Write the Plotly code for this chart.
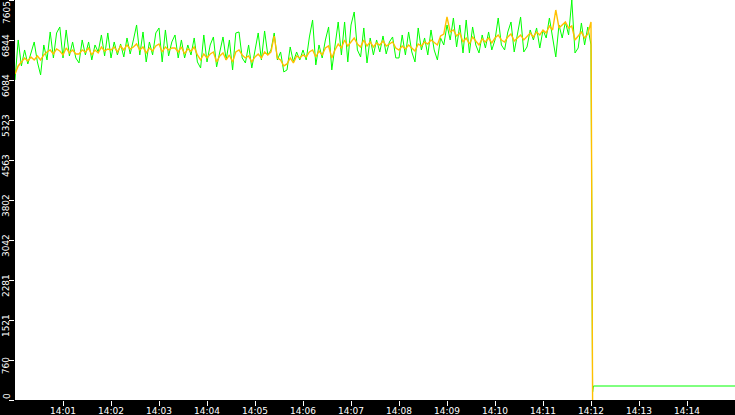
import numpy as np
import pandas as pd
import plotly.graph_objects as go

# one sample every 4 s from 14:00:00 to 14:12:00
SAMPLE_STEP_S = 4
START = "2024-01-01 14:00:00"
END = "2024-01-01 14:15:00"

green_vals = [
    6085, 6845, 6351, 6655, 6389, 6617, 6807, 6427, 6180, 6750,
    6465, 6997, 6503, 6978, 7092, 6503, 7035, 6541, 6807, 6503,
    6408, 6845, 6560, 6807, 6465, 6750, 6617, 6940, 6541, 6978,
    6503, 6807, 6560, 6769, 6522, 6883, 6579, 6845, 7130, 6560,
    6997, 6427, 6807, 6560, 6978, 7073, 6427, 7035, 6541, 6807,
    6940, 6503, 6845, 6503, 6750, 6560, 6883, 6427, 6313, 6940,
    6427, 6750, 6902, 6332, 6655, 6902, 6465, 6845, 6275, 6978,
    6997, 6503, 6408, 6750, 6313, 6655, 6978, 6465, 7016, 6560,
    6655, 6978, 6465, 6617, 6237, 6275, 6712, 6427, 6617, 6465,
    6655, 6465, 6902, 7225, 6370, 6750, 6503, 6845, 7092, 6275,
    6750, 7187, 6560, 7187, 6427, 7130, 7377, 6655, 6522, 7073,
    6408, 6883, 6560, 6845, 6617, 6921, 6579, 6807, 6902, 6503,
    6503, 6940, 6560, 6997, 6617, 6427, 7073, 6655, 6883, 6560,
    7035, 6655, 6465, 6883, 6750, 7130, 6845, 7263, 6712, 7130,
    6598, 7225, 6598, 7092, 6750, 6598, 6940, 6693, 6997, 6655,
    6845, 7263, 6750, 6655, 6997, 7187, 6617, 6940, 7282, 6617,
    6712, 7035, 6845, 7073, 6693, 7035, 6883, 7263, 6845, 6522,
    7130, 6883, 7187, 6940, 7605, 6598, 6693, 7168, 6750, 7092,
    6750,
]

orange_vals = [
    6199, 6351, 6427, 6503, 6446, 6522, 6465, 6541, 6465, 6560,
    6617, 6655, 6579, 6674, 6636, 6560, 6693, 6598, 6655, 6579,
    6579, 6655, 6617, 6693, 6560, 6655, 6598, 6712, 6636, 6674,
    6655, 6712, 6617, 6731, 6655, 6750, 6674, 6712, 6769, 6655,
    6712, 6598, 6693, 6636, 6731, 6769, 6617, 6712, 6655, 6693,
    6693, 6617, 6712, 6579, 6674, 6636, 6712, 6560, 6465, 6579,
    6503, 6579, 6617, 6427, 6541, 6598, 6465, 6560, 6427, 6617,
    6655, 6560, 6503, 6541, 6427, 6522, 6579, 6503, 6617, 6560,
    6617, 6921, 6503, 6465, 6351, 6389, 6503, 6408, 6541, 6503,
    6560, 6522, 6617, 6655, 6522, 6636, 6560, 6693, 6731, 6503,
    6655, 6769, 6693, 6845, 6731, 6807, 6883, 6769, 6712, 6845,
    6731, 6807, 6712, 6788, 6750, 6826, 6731, 6769, 6807, 6693,
    6655, 6731, 6674, 6750, 6693, 6636, 6769, 6731, 6807, 6769,
    6845, 6788, 6750, 6921, 6959, 7282, 6997, 7035, 6921, 6978,
    6807, 6883, 6769, 6902, 6826, 6750, 6864, 6807, 6883, 6788,
    6883, 6940, 6845, 6807, 6902, 6959, 6826, 6883, 6940, 6845,
    6921, 6978, 6902, 6997, 6940, 7035, 6978, 7111, 7035, 7415,
    7073, 7130, 7187, 7073, 7111, 6845, 6921, 6997, 6883, 6959,
    7187,
]

# after the drop at 14:12
green_tail_times = ["14:12:01", "14:12:02", "14:12:03", "14:15:00"]
green_tail_vals = [3517, 152, 266, 266]
orange_tail_times = ["14:12:01", "14:12:02"]
orange_tail_vals = [3650, 0]

x_tick_labels = ["14:01", "14:02", "14:03", "14:04", "14:05", "14:06", "14:07",
                 "14:08", "14:09", "14:10", "14:11", "14:12", "14:13", "14:14"]
y_tick_vals = [0, 760.5, 1521, 2281.5, 3042, 3802.5, 4563, 5323.5, 6084, 6844.5, 7605]
y_tick_text = ["0", "760", "1521", "2281", "3042", "3802", "4563", "5323", "6084", "6844", "7605"]


def _times(n):
    t0 = pd.Timestamp(START)
    return t0 + pd.to_timedelta(np.arange(n) * SAMPLE_STEP_S, unit="s")


def _clock(times):
    return pd.to_datetime(["2024-01-01 " + t for t in times])


green_x = list(_times(len(green_vals))) + list(_clock(green_tail_times))
green_y = green_vals + green_tail_vals
orange_x = list(_times(len(orange_vals))) + list(_clock(orange_tail_times))
orange_y = orange_vals + orange_tail_vals

fig = go.Figure()
fig.add_trace(go.Scatter(x=green_x, y=green_y, mode="lines",
                         line=dict(color="#00ff00", width=1)))
fig.add_trace(go.Scatter(x=orange_x, y=orange_y, mode="lines",
                         line=dict(color="#ffc000", width=1.4)))

tick_font = dict(family="DejaVu Sans", size=9, color="white")

# the end labels are pulled inside the axis span, as in the original
inner_text = [""] + y_tick_text[1:-1] + [""]
for val, text, shift in [(y_tick_vals[0], y_tick_text[0], 4),
                         (y_tick_vals[-1], y_tick_text[-1], -13)]:
    fig.add_annotation(
        x=0, xref="paper", y=val, yref="y", text=text, showarrow=False,
        textangle=-90, font=tick_font, xanchor="center", yanchor="middle",
        xshift=-8, yshift=shift,
    )

fig.update_layout(
    width=735,
    height=415,
    margin=dict(l=15, r=0, t=0, b=15, autoexpand=False),
    paper_bgcolor="black",
    plot_bgcolor="white",
    showlegend=False,
    xaxis=dict(
        range=[pd.Timestamp(START), pd.Timestamp(END)],
        tickvals=list(_clock([t + ":00" for t in x_tick_labels])),
        ticktext=x_tick_labels,
        ticks="outside", ticklen=5, tickcolor="white", tickwidth=1,
        ticklabelstandoff=-3,
        tickfont=tick_font, showgrid=False, zeroline=False,
        showline=False, automargin=False,
    ),
    yaxis=dict(
        range=[0, 7605],
        tickvals=y_tick_vals,
        ticktext=inner_text,
        tickangle=-90,
        ticklabelshift=7,
        ticklabelstandoff=-4,
        ticks="outside", ticklen=5, tickcolor="white", tickwidth=1,
        tickfont=tick_font, showgrid=False, zeroline=False,
        showline=False, automargin=False,
    ),
)

# page body margin off so the figure fills the window exactly
fig.write_html("out.html", config={"displayModeBar": False},
               post_script="document.body.style.margin='0';")
